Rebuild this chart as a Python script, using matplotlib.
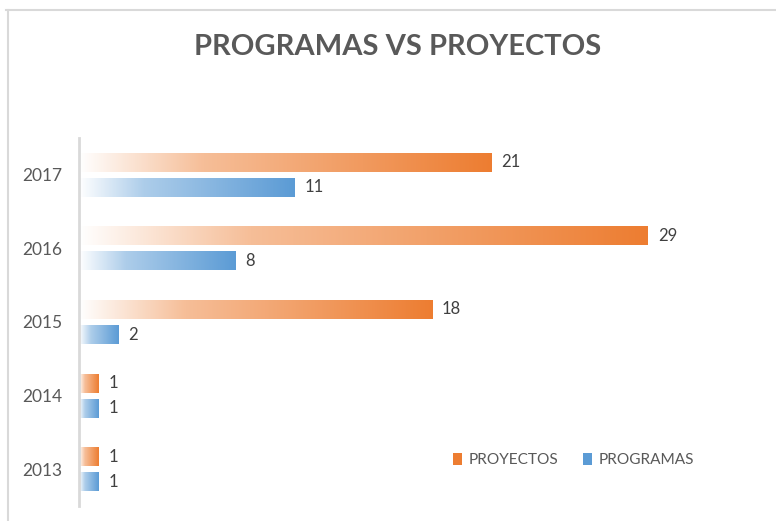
import numpy as np
import matplotlib.pyplot as plt
from matplotlib.colors import to_rgb
from matplotlib.patches import Patch
from matplotlib.lines import Line2D

# Data
years = ['2013', '2014', '2015', '2016', '2017']
proyectos = [1, 1, 18, 29, 21]
programas = [1, 1, 2, 8, 11]

ORANGE = '#ED7D31'
BLUE = '#5B9BD5'
TEXT = '#595959'
GRID = '#D9D9D9'

plt.rcParams['font.family'] = ['Lato', 'DejaVu Sans']


def gradient_img(color, n=256):
    """Horizontal white -> color ramp, like the Excel gradient fill."""
    c = np.array(to_rgb(color))
    t = np.linspace(0, 1, n)
    w = np.interp(t, [0, 0.3, 1], [0.0, 0.5, 1.0])
    img = (1 - w)[:, None] * np.ones(3) + w[:, None] * c
    return img[None, :, :]


def fill_gradient(ax, bars, color):
    img = gradient_img(color)
    for b in bars:
        x0, y0 = b.get_x(), b.get_y()
        w, h = b.get_width(), b.get_height()
        im = ax.imshow(img, extent=(x0, x0 + w, y0, y0 + h), aspect='auto',
                       interpolation='bilinear', zorder=2)
        im.set_clip_path(b)


fig = plt.figure(figsize=(7.76, 5.21), dpi=100)
ax = fig.add_axes([79 / 776, 1 - 506 / 521, (740 - 79) / 776, (506 - 138) / 521])

y = np.arange(len(years))
off = 0.17
hgt = 0.26
b_proy = ax.barh(y + off, proyectos, height=hgt, color='none', edgecolor='none')
b_prog = ax.barh(y - off, programas, height=hgt, color='none', edgecolor='none')
fill_gradient(ax, b_proy, ORANGE)
fill_gradient(ax, b_prog, BLUE)

ax.bar_label(b_proy, padding=7, color='#404040', fontsize=12)
ax.bar_label(b_prog, padding=7, color='#404040', fontsize=12)

ax.set_xlim(0, (740 - 79) / ((648 - 79) / 29))
ax.set_ylim(-0.5, len(years) - 0.5)
ax.set_yticks(y)
ax.set_yticklabels(years, fontsize=12.5, color=TEXT)
ax.tick_params(axis='y', length=0, pad=12)
ax.set_xticks([])
for s in ['top', 'right', 'bottom']:
    ax.spines[s].set_visible(False)
ax.spines['left'].set_color(GRID)
ax.spines['left'].set_linewidth(2)
ax.spines['left'].set_zorder(3)

fig.text(398 / 776, 1 - 47 / 521, 'PROGRAMAS VS PROYECTOS', ha='center', va='center',
         fontsize=21, fontweight='bold', color=TEXT)

handles = [Patch(facecolor=ORANGE, edgecolor='none'), Patch(facecolor=BLUE, edgecolor='none')]
fig.legend(handles, ['PROYECTOS', 'PROGRAMAS'], loc='center left',
           bbox_to_anchor=(439 / 776, 1 - 460 / 521), ncol=2, frameon=False,
           fontsize=11.1, labelcolor=TEXT, handlelength=0.6, handleheight=0.8,
           handletextpad=0.4, columnspacing=1.6)

# chart border (only top and left edges are inside the crop)
fig.add_artist(Line2D([6 / 776, 1], [1 - 10 / 521] * 2, color=GRID, lw=1.5))
fig.add_artist(Line2D([8 / 776] * 2, [0, 1 - 10 / 521], color=GRID, lw=1.5))

fig.savefig('out.png', dpi=100)
